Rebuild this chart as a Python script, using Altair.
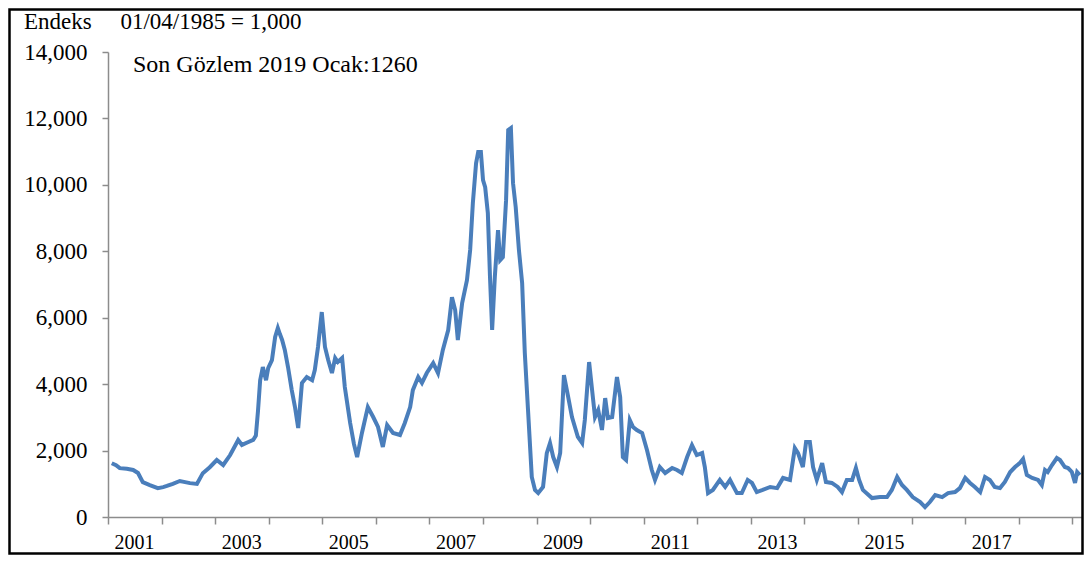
import altair as alt
import pandas as pd

# Baltic Dry Index style series (decimal year, index value)
years = [
    2001.07, 2001.15, 2001.22, 2001.35, 2001.47, 2001.56, 2001.65, 2001.78, 2001.93,
    2002.03, 2002.10, 2002.21, 2002.34, 2002.44, 2002.53, 2002.66, 2002.77, 2002.90,
    2003.03, 2003.15, 2003.28, 2003.43, 2003.50, 2003.61, 2003.71, 2003.76, 2003.80,
    2003.84, 2003.89, 2003.95, 2003.99, 2004.06, 2004.12, 2004.17, 2004.21, 2004.25,
    2004.30, 2004.36, 2004.43, 2004.49, 2004.55, 2004.62, 2004.71, 2004.81, 2004.86,
    2004.92, 2004.99, 2005.05, 2005.11, 2005.18, 2005.24, 2005.29, 2005.37, 2005.42,
    2005.52, 2005.59, 2005.65, 2005.74, 2005.85, 2005.95, 2006.04, 2006.13, 2006.21,
    2006.32, 2006.45, 2006.54, 2006.64, 2006.69, 2006.79, 2006.86, 2006.95, 2007.07,
    2007.16, 2007.25, 2007.35, 2007.42, 2007.48, 2007.53, 2007.61, 2007.70, 2007.76,
    2007.81, 2007.87, 2007.91, 2007.96, 2008.00, 2008.04, 2008.09, 2008.13, 2008.17,
    2008.22, 2008.28, 2008.32, 2008.37, 2008.43, 2008.47, 2008.52, 2008.56, 2008.61,
    2008.67, 2008.73, 2008.78, 2008.84, 2008.91, 2008.97, 2009.03, 2009.12, 2009.19,
    2009.25, 2009.31, 2009.38, 2009.44, 2009.51, 2009.59, 2009.66, 2009.77, 2009.85,
    2009.90, 2009.98, 2010.05, 2010.09, 2010.15, 2010.22, 2010.28, 2010.33, 2010.41,
    2010.50, 2010.56, 2010.61, 2010.67, 2010.74, 2010.80, 2010.87, 2010.97, 2011.06,
    2011.15, 2011.21, 2011.30, 2011.40, 2011.53, 2011.62, 2011.71, 2011.81, 2011.90,
    2011.99, 2012.09, 2012.14, 2012.20, 2012.29, 2012.42, 2012.52, 2012.61, 2012.74,
    2012.83, 2012.94, 2013.02, 2013.11, 2013.22, 2013.36, 2013.49, 2013.60, 2013.73,
    2013.82, 2013.88, 2013.97, 2014.03, 2014.10, 2014.16, 2014.23, 2014.33, 2014.40,
    2014.51, 2014.62, 2014.70, 2014.79, 2014.89, 2014.96, 2015.02, 2015.09, 2015.26,
    2015.41, 2015.54, 2015.63, 2015.73, 2015.82, 2015.91, 2016.02, 2016.16, 2016.25,
    2016.34, 2016.44, 2016.57, 2016.68, 2016.81, 2016.90, 2017.00, 2017.09, 2017.18,
    2017.28, 2017.37, 2017.46, 2017.55, 2017.65, 2017.74, 2017.84, 2017.93, 2018.02,
    2018.08, 2018.15, 2018.25, 2018.36, 2018.43, 2018.49, 2018.54, 2018.62, 2018.71,
    2018.77, 2018.86, 2018.92, 2018.99, 2019.05, 2019.09, 2019.14,
]
values = [
    1620, 1560, 1470, 1450, 1415, 1325, 1050, 960, 870,
    900, 935, 1000, 1085, 1050, 1020, 995, 1320, 1500,
    1715, 1565, 1865, 2320, 2170, 2250, 2320, 2450, 3200,
    4120, 4515, 4120, 4485, 4725, 5420, 5690, 5500, 5330,
    5030, 4515, 3820, 3310, 2680, 4035, 4215, 4120, 4425,
    5120, 6170, 5120, 4725, 4335, 4785, 4665, 4785, 3915,
    2830, 2200, 1805, 2530, 3310, 3010, 2710, 2110, 2770,
    2530, 2470, 2830, 3310, 3820, 4215, 4035, 4335, 4635,
    4335, 5030, 5630, 6620, 6230, 5330, 6440, 7130, 8040,
    9450, 10650, 10990, 10990, 10140, 9930, 9150, 7225, 5630,
    7225, 8640, 7735, 7825, 9540, 11650, 11710, 10050, 9330,
    8040, 7045, 4935, 3220, 1205, 815, 720, 905, 1925,
    2225, 1805, 1505, 1925, 4275, 3610, 3010, 2410, 2225,
    2920, 4665, 3610, 3010, 3220, 2620, 3580, 2980, 3010,
    4215, 3610, 1805, 1715, 2920, 2710, 2620, 2530, 2015,
    1415, 1115, 1505, 1325, 1475, 1415, 1325, 1805, 2165,
    1865, 1925, 1505, 720, 815, 1115, 905, 1115, 720,
    720, 1115, 1025, 750, 815, 905, 870, 1175, 1115,
    2075, 1925, 1505, 2260, 2260, 1505, 1115, 1625, 1055,
    1025, 905, 750, 1115, 1115, 1475, 1115, 815, 570,
    600, 600, 815, 1205, 965, 815, 600, 450, 300,
    450, 660, 600, 720, 750, 870, 1175, 1025, 905,
    750, 1205, 1115, 905, 870, 1055, 1355, 1505, 1625,
    1745, 1265, 1175, 1115, 965, 1415, 1355, 1565, 1775,
    1715, 1505, 1475, 1355, 1025, 1355, 1265,
]

x_ticks = list(range(2001, 2020))
y_ticks = list(range(0, 14001, 2000))
title_text = "Endeks\u00a0\u00a0\u00a0\u00a0\u00a001/04/1985 = 1,000"
note_text = "Son Gözlem 2019 Ocak:1260"

df = pd.DataFrame({"t": years, "v": values})

W, H = 974, 465
PL, PT, PR, PB = 100, 44, 2, 38
FONT = "Liberation Serif"

line = alt.Chart(df).mark_line(color="#4A7EBB", strokeWidth=4, clip=True).encode(
    x=alt.X(
        "t:Q",
        scale=alt.Scale(domain=[2001, 2019.18], nice=False, zero=False),
        axis=alt.Axis(
            values=x_ticks, format="d", title=None, grid=False,
            labelExpr="datum.value % 2 == 1 && datum.value < 2018 ? datum.label : ''",
            labelOffset=26, labelFlush=False, labelOverlap=False,
            labelFontSize=20, labelPadding=8, tickSize=7,
        ),
    ),
    y=alt.Y(
        "v:Q",
        scale=alt.Scale(domain=[0, 14000], nice=False),
        axis=alt.Axis(
            values=y_ticks, format=",.0f", title=None, grid=False,
            labelFontSize=23, labelPadding=15, tickSize=6,
        ),
    ),
)

title_mark = alt.Chart(pd.DataFrame({"s": [title_text]})).mark_text(
    align="left", baseline="middle", font=FONT, fontSize=23, color="black"
).encode(x=alt.value(-PL + 16), y=alt.value(-30), text="s:N")

note_mark = alt.Chart(pd.DataFrame({"s": [note_text]})).mark_text(
    align="left", baseline="middle", font=FONT, fontSize=24, color="black"
).encode(x=alt.value(25), y=alt.value(13), text="s:N")

border = alt.Chart(pd.DataFrame({"a": [0]})).mark_rect(
    fill="white", fillOpacity=0, stroke="black", strokeWidth=2.5, clip=False
).encode(
    x=alt.value(-PL + 1.5), x2=alt.value(W + PR - 1.5),
    y=alt.value(-PT + 1.5), y2=alt.value(H + PB - 1.5),
)

chart = (
    alt.layer(line, title_mark, note_mark, border)
    .properties(
        width=W, height=H,
        autosize=alt.AutoSizeParams(type="none"),
        padding={"left": PL, "top": PT, "right": PR, "bottom": PB},
        background="white",
    )
    .configure_view(strokeWidth=0)
    .configure_axis(
        domainColor="#8c8c8c", tickColor="#8c8c8c", domainWidth=1.5, tickWidth=1.5,
        labelColor="black", labelFont=FONT,
    )
)

chart.save("out.html", embed_options={"renderer": "svg", "actions": False})
